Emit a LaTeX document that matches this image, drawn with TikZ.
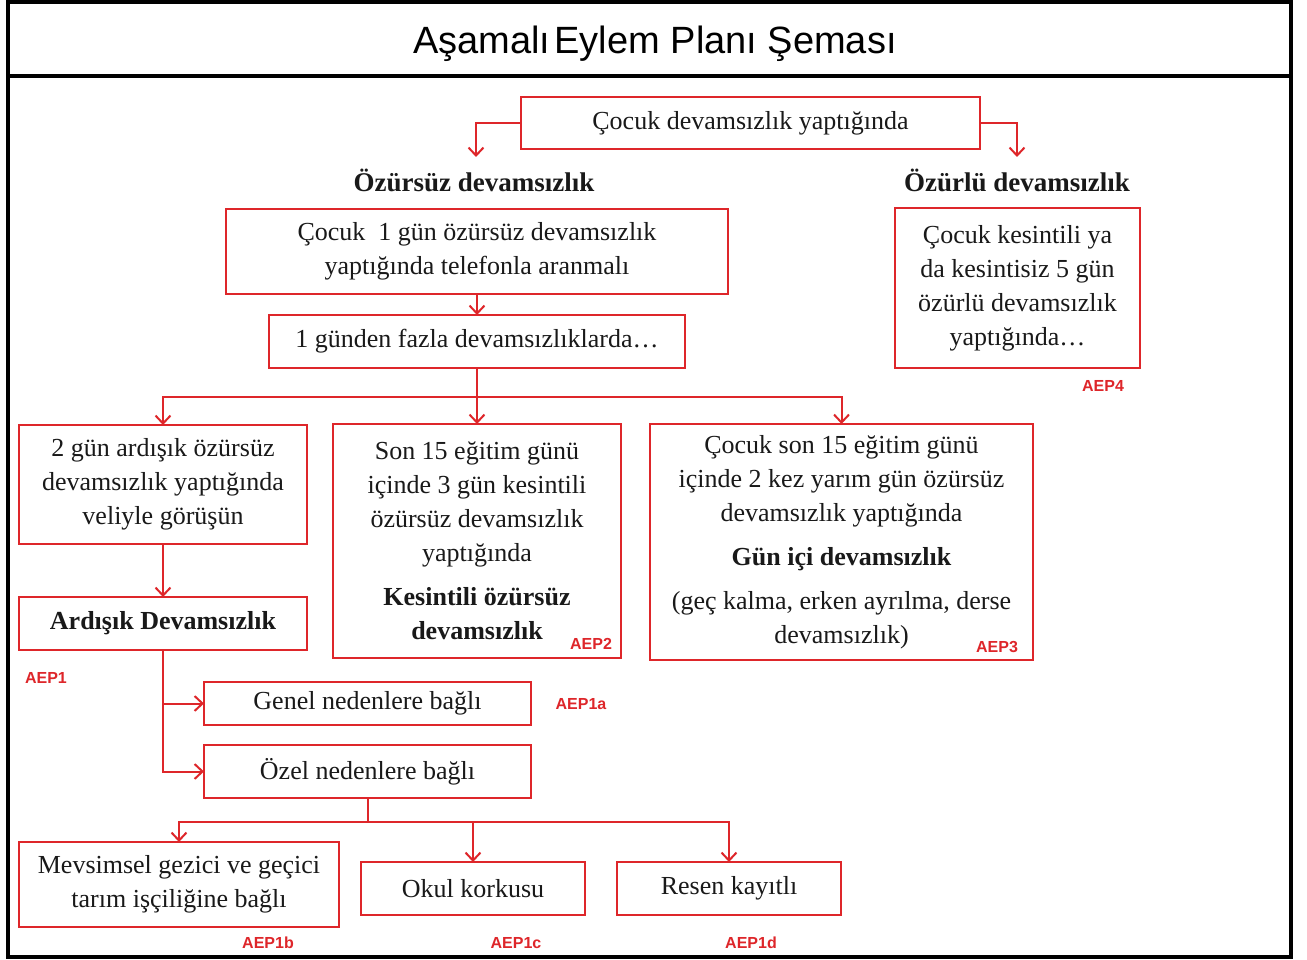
\documentclass[tikz,border=0pt]{standalone}
\usepackage{fontspec}
\setmainfont{Liberation Serif}
\newfontfamily\titlefont{Liberation Sans}
\newfontfamily\aepfont{Liberation Sans}
\usetikzlibrary{arrows.meta}
\definecolor{boxred}{RGB}{222,38,42}
\definecolor{txt}{RGB}{25,25,25}
\tikzset{
  box/.style={draw=boxred, line width=2.6pt, inner sep=0pt, outer sep=0pt, align=center, text=txt, font=\fontsize{26}{34}\selectfont},
  thinbox/.style={box, line width=1.7pt},
  head/.style={inner sep=0pt, text=txt, font=\fontsize{27}{34}\selectfont\bfseries},
  aep/.style={inner sep=0pt, text=boxred, font=\aepfont\fontsize{16}{18}\selectfont\bfseries},
  arr/.style={draw=boxred, line width=2pt, -{Straight Barb[length=8pt,width=15pt,line width=2pt]}},
  ln/.style={draw=boxred, line width=2pt}
}
\begin{document}
\begin{tikzpicture}[x=1pt,y=-1pt]
\useasboundingbox (0,0) rectangle (1307,960);
\fill[white] (0,0) rectangle (1307,960);
% frame and title
\draw[line width=4pt] (7.5,2) rectangle (1291,957);
\draw[line width=3.5pt] (7.5,76) -- (1291,76);
\node[inner sep=0pt, font=\titlefont\fontsize{38}{40}\selectfont] (title) at (655,44) {Aşamalı\hspace{4pt}Eylem Planı Şeması};

% top
\node[thinbox, minimum width=459pt, minimum height=52pt] (top) at (750.5,123) {Çocuk devamsızlık yaptığında};
\node[head] (ozs) at (474,180) {Özürsüz devamsızlık};
\node[head] (ozl) at (1017,180) {Özürlü devamsızlık};
\coordinate (tl) at (476,157);
\coordinate (tr) at (1017,157);
\draw[arr] (top.west) -| (tl);
\draw[arr] (top.east) -| (tr);

\node[thinbox, minimum width=502pt, minimum height=85pt] (c1) at (477,251.5) {Çocuk\ \ 1 gün özürsüz devamsızlık\\yaptığında telefonla aranmalı};
\node[thinbox, minimum width=416pt, minimum height=53pt] (c2) at (477,341.5) {1 günden fazla devamsızlıklarda…};
\draw[arr] (c1.south) -- (c2.north);

\node[box, minimum width=245pt, minimum height=160pt] (c4) at (1017.5,288) {Çocuk kesintili ya\\da kesintisiz 5 gün\\özürlü devamsızlık\\yaptığında…};
\node[aep] (aep4) at (1103,386) {AEP4};

% second row
\node[box, line width=2.2pt, minimum width=288pt, minimum height=119pt] (b1) at (163,484.5) {2 gün ardışık özürsüz\\devamsızlık yaptığında\\veliyle görüşün};
\node[box, line width=2.2pt, minimum width=288pt, minimum height=234pt] (b2) at (477,541) {Son 15 eğitim günü\\içinde 3 gün kesintili\\özürsüz devamsızlık\\yaptığında\\[10pt]\textbf{Kesintili özürsüz}\\\textbf{devamsızlık}};
\node[box, line width=2.2pt, minimum width=383pt, minimum height=236pt] (b3) at (841.5,542) {Çocuk son 15 eğitim günü\\içinde 2 kez yarım gün özürsüz\\devamsızlık yaptığında\\[10pt]\textbf{Gün içi devamsızlık}\\[10pt](geç kalma, erken ayrılma, derse\\devamsızlık)};
\node[aep] (aep2) at (591,644) {AEP2};
\node[aep] (aep3) at (997,647) {AEP3};
\coordinate (bus1) at (477,397);
\draw[ln] (c2.south) -- (bus1);
\draw[arr] (bus1) -- (b2.north);
\draw[arr] (bus1) -| (b1.north);
\draw[arr] (bus1) -| (b3.north);

% Ardisik branch
\node[box, minimum width=288pt, minimum height=53pt] (ard) at (163,623.5) {\textbf{Ardışık Devamsızlık}};
\node[aep] (aep1) at (46,678) {AEP1};
\draw[arr] (b1.south) -- (ard.north);
\node[box, minimum width=327pt, minimum height=43pt] (gen) at (367.5,703.5) {Genel nedenlere bağlı};
\node[aep] (aep1a) at (581,704) {AEP1a};
\node[box, minimum width=327pt, minimum height=53pt] (oz) at (367.5,771.5) {Özel nedenlere bağlı};
\draw[arr] (ard.south) |- (gen.west);
\draw[arr] (ard.south) |- (oz.west);

% bottom row
\node[box, minimum width=320pt, minimum height=85pt] (m) at (179,884.5) {Mevsimsel gezici ve geçici\\tarım işçiliğine bağlı};
\node[box, minimum width=224pt, minimum height=53pt] (ok) at (473,888.5) {Okul korkusu};
\node[box, minimum width=224pt, minimum height=53pt] (re) at (729,888.5) {Resen kayıtlı};
\node[aep] (aep1b) at (268,943) {AEP1b};
\node[aep] (aep1c) at (516,943) {AEP1c};
\node[aep] (aep1d) at (751,943) {AEP1d};
\coordinate (bus2) at (367.5,822);
\draw[ln] (oz.south) -- (bus2);
\draw[arr] (bus2) -| (m.north);
\draw[arr] (bus2) -| (ok.north);
\draw[arr] (bus2) -| (re.north);
\end{tikzpicture}
\end{document}
